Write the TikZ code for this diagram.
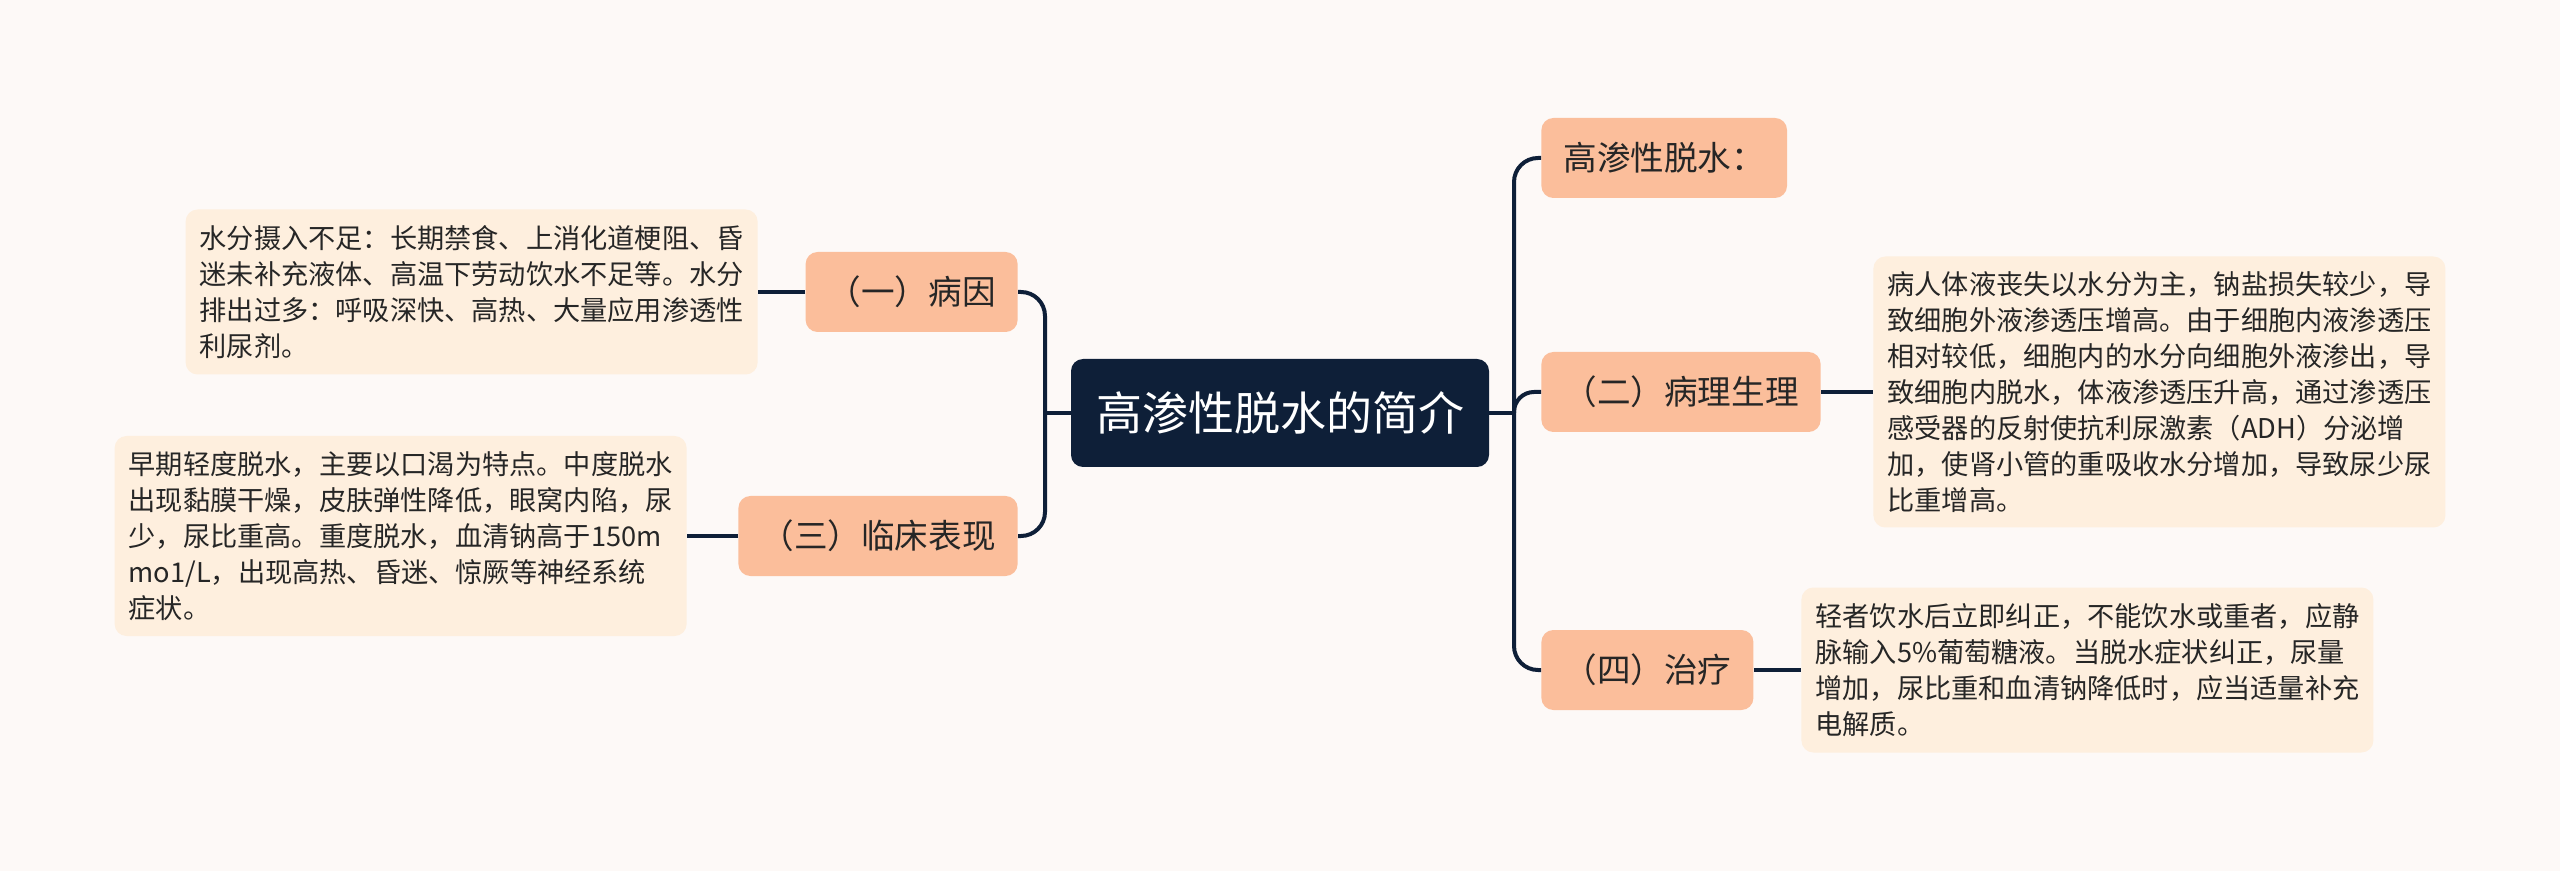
\documentclass[tikz,border=0pt]{standalone}
\usepackage{fontspec}
\setmainfont{Noto Sans CJK SC}
\definecolor{bgc}{RGB}{253,249,247}
\definecolor{navy}{RGB}{14,31,56}
\definecolor{peach}{RGB}{251,190,155}
\definecolor{cream}{RGB}{254,239,222}
\definecolor{ink}{RGB}{38,38,38}
\tikzset{
  central/.style={fill=navy, text=white, rounded corners=6pt, minimum height=54pt, minimum width=209pt, inner xsep=12pt, font=\fontsize{23pt}{27pt}\selectfont},
  topic/.style={fill=peach, text=ink, rounded corners=6pt, minimum height=40pt, inner xsep=11pt, font=\fontsize{16.8pt}{20pt}\selectfont},
  detail/.style={fill=cream, text=ink, rounded corners=6pt, text width=272pt, inner xsep=7pt, inner ysep=0pt, align=left, font=\fontsize{13.6pt}{18pt}\selectfont},
  link/.style={draw=navy, line width=2pt},
}
\begin{document}
\begin{tikzpicture}[x=0.5pt, y=-0.5pt]
\fill[bgc] (0,0) rectangle (2560,871);
\useasboundingbox (0,0) rectangle (2560,871);

\node[central] (c) at (1280,413) {高渗性脱水的简介};

% right topics
\node[topic, anchor=west] (t0) at (1541,158) {高渗性脱水：};
\node[topic, anchor=west] (t2) at (1541,392) {（二）病理生理};
\node[topic, anchor=west] (t4) at (1541,670) {（四）治疗};
% left topics
\node[topic, anchor=east] (t1) at (1018,292) {（一）病因};
\node[topic, anchor=east] (t3) at (1018,536) {（三）临床表现};

% details
\node[detail, anchor=east, minimum height=82.5pt] (d1) at (758,292) {水分摄入不足：长期禁食、上消化道梗阻、昏\\迷未补充液体、高温下劳动饮水不足等。水分\\排出过多：呼吸深快、高热、大量应用渗透性\\利尿剂。};
\node[detail, anchor=east, minimum height=100pt] (d3) at (687,536) {早期轻度脱水，主要以口渴为特点。中度脱水\\出现黏膜干燥，皮肤弹性降低，眼窝内陷，尿\\少，尿比重高。重度脱水，血清钠高于150m\\mo1/L，出现高热、昏迷、惊厥等神经系统\\症状。};
\node[detail, anchor=west, minimum height=135.5pt] (d2) at (1873,392) {病人体液丧失以水分为主，钠盐损失较少，导\\致细胞外液渗透压增高。由于细胞内液渗透压\\相对较低，细胞内的水分向细胞外液渗出，导\\致细胞内脱水，体液渗透压升高，通过渗透压\\感受器的反射使抗利尿激素（ADH）分泌增\\加，使肾小管的重吸收水分增加，导致尿少尿\\比重增高。};
\node[detail, anchor=west, minimum height=82.5pt] (d4) at (1801,670) {轻者饮水后立即纠正，不能饮水或重者，应静\\脉输入5\%葡萄糖液。当脱水症状纠正，尿量\\增加，尿比重和血清钠降低时，应当适量补充\\电解质。};

% right trunk
\coordinate (rj) at (1514,413);
\coordinate (lj) at (1045,413);
\draw[link] (c.east) -- (rj);
\draw[link, rounded corners=12pt] (rj) |- (t0.west);
\draw[link, rounded corners=10pt] (rj) |- (t2.west);
\draw[link, rounded corners=12pt] (rj) |- (t4.west);
% left trunk
\draw[link] (c.west) -- (lj);
\draw[link, rounded corners=12pt] (lj) |- (t1.east);
\draw[link, rounded corners=12pt] (lj) |- (t3.east);

% detail connectors
\draw[link] (t1.west) -- (d1.east);
\draw[link] (t3.west) -- (d3.east);
\draw[link] (t2.east) -- (d2.west);
\draw[link] (t4.east) -- (d4.west);
\end{tikzpicture}
\end{document}
